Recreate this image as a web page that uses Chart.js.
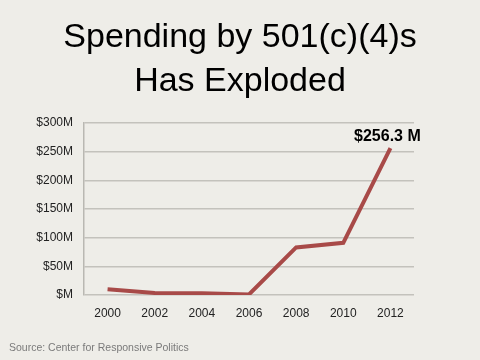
<!DOCTYPE html>
<html>
<head>
<meta charset="utf-8">
<script src="https://cdn.jsdelivr.net/npm/chart.js@4"></script>
<style>
  html, body { margin: 0; padding: 0; background: #eeede8; }
  #wrap { position: relative; width: 480px; height: 360px; }
</style>
</head>
<body>
<div id="wrap"><canvas id="c" width="480" height="360"></canvas></div>
<script>
const years = ['2000', '2002', '2004', '2006', '2008', '2010', '2012'];
const spending = [10, 3.5, 3, 1, 83, 91, 256.3];
const yTicks = [0, 50, 100, 150, 200, 250, 300];
const titleLines = ['Spending by 501(c)(4)s', 'Has Exploded'];
const sourceText = 'Source: Center for Responsive Politics';
const peakLabel = '$256.3 M';

const textPlugin = {
  id: 'texts',
  afterDraw(chart) {
    const ctx = chart.ctx;
    ctx.save();
    // title
    ctx.fillStyle = '#000';
    ctx.textAlign = 'center';
    ctx.textBaseline = 'alphabetic';
    ctx.font = '34px "Liberation Sans", Arial, sans-serif';
    ctx.fillText(titleLines[0], 240, 47);
    ctx.fillText(titleLines[1], 240, 91);
    // source
    ctx.fillStyle = '#7a7a7a';
    ctx.textAlign = 'left';
    ctx.font = '10.5px "Liberation Sans", Arial, sans-serif';
    ctx.fillText(sourceText, 9, 351);
    // peak annotation
    const xs = chart.scales.x, ys = chart.scales.y;
    const last = spending.length - 1;
    const px = xs.getPixelForValue(last);
    const py = ys.getPixelForValue(spending[last]);
    ctx.fillStyle = '#000';
    ctx.textAlign = 'center';
    ctx.font = 'bold 16px "Liberation Sans", Arial, sans-serif';
    ctx.fillText(peakLabel, px - 3, py - 7);
    ctx.restore();
  }
};

new Chart(document.getElementById('c'), {
  type: 'line',
  data: {
    labels: years,
    datasets: [{
      data: spending,
      borderColor: '#a84a48',
      borderWidth: 4,
      pointRadius: 0,
      tension: 0,
      fill: false
    }]
  },
  options: {
    responsive: false,
    animation: false,
    layout: { padding: { top: 123, right: 66, bottom: 35, left: 0 } },
    plugins: { legend: { display: false }, tooltip: { enabled: false }, title: { display: false } },
    scales: {
      x: {
        offset: true,
        grid: { display: false, drawTicks: false },
        border: { display: false },
        ticks: { color: '#222', font: { family: '"Liberation Sans", Arial', size: 12 }, padding: 11, maxRotation: 0 },
        afterFit(s) { s.height = 30; }
      },
      y: {
        min: 0, max: 300,
        afterBuildTicks(s) { s.ticks = yTicks.map(v => ({ value: v })); },
        grid: { color: '#c3c2bc', lineWidth: 1.5, drawTicks: false },
        border: { display: true, color: '#b9b8b2', width: 1.5 },
        ticks: {
          color: '#222',
          font: { family: '"Liberation Sans", Arial', size: 12 },
          padding: 11,
          callback: v => v === 0 ? '$M' : '$' + v + 'M'
        },
        afterFit(s) { s.width = 84; }
      }
    }
  },
  plugins: [textPlugin]
});
</script>
</body>
</html>
